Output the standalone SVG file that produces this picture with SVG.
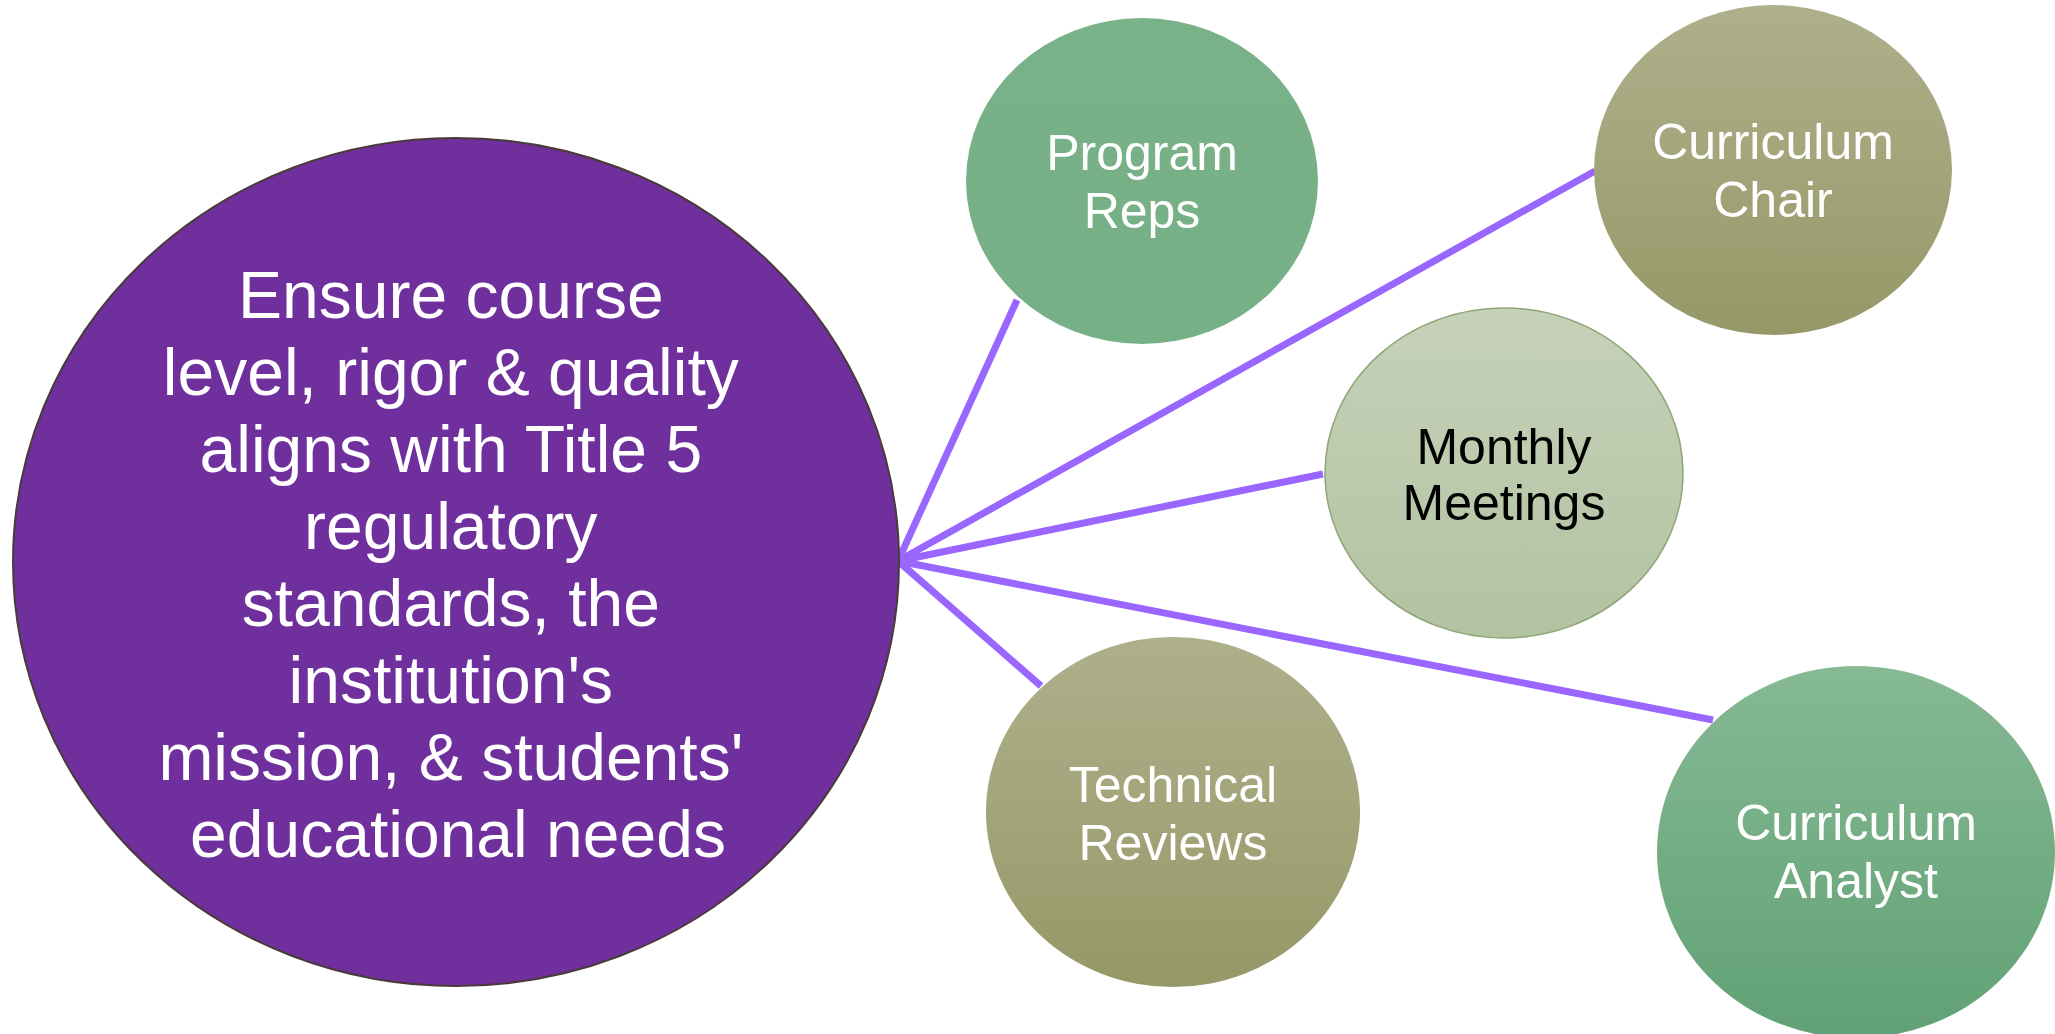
<svg xmlns="http://www.w3.org/2000/svg" width="2055" height="1034" viewBox="0 0 2055 1034">
<defs>
<linearGradient id="gOlive" x1="0" y1="0" x2="0" y2="1">
<stop offset="0" stop-color="#aeb08b"/>
<stop offset="1" stop-color="#979868"/>
</linearGradient>
<linearGradient id="gSage" x1="0" y1="0" x2="0" y2="1">
<stop offset="0" stop-color="#c6d1b9"/>
<stop offset="1" stop-color="#b2c3a1"/>
</linearGradient>
<linearGradient id="gGreen" x1="0" y1="0" x2="0" y2="1">
<stop offset="0" stop-color="#86b994"/>
<stop offset="1" stop-color="#61a175"/>
</linearGradient>
<linearGradient id="gGreen2" x1="0" y1="0" x2="0" y2="1">
<stop offset="0" stop-color="#79b188"/>
<stop offset="1" stop-color="#76b086"/>
</linearGradient>
</defs>
<style>
.lbl{font-family:"Liberation Sans",Arial,sans-serif;text-anchor:middle;}
.w{fill:#ffffff;}
.k{fill:#000000;}
.conn{stroke:#9966ff;stroke-width:7;fill:none;stroke-linecap:butt;}
</style>
<rect width="2055" height="1034" fill="#ffffff"/>
<g id="connectors">
<line class="conn" x1="898" y1="561" x2="1017" y2="300"/>
<line class="conn" x1="898" y1="561" x2="1595" y2="171"/>
<line class="conn" x1="898" y1="561" x2="1323" y2="474"/>
<line class="conn" x1="898" y1="561" x2="1041" y2="686"/>
<line class="conn" x1="898" y1="561" x2="1713" y2="720"/>
</g>
<g id="main">
<ellipse cx="456" cy="562" rx="443" ry="424" fill="#6f2f9d" stroke="#4a3a3a" stroke-width="2"/>
<text class="lbl w" font-size="66">
<tspan x="460" y="318">Ensure course</tspan>
<tspan x="460" y="395">level, rigor &amp; quality</tspan>
<tspan x="460" y="472">aligns with Title 5</tspan>
<tspan x="460" y="549">regulatory</tspan>
<tspan x="460" y="626">standards, the</tspan>
<tspan x="460" y="703">institution's</tspan>
<tspan x="460" y="780">mission, &amp; students'</tspan>
<tspan x="458" y="857">educational needs</tspan>
</text>
</g>
<g id="program-reps">
<ellipse cx="1142" cy="181" rx="176" ry="163" fill="url(#gGreen2)"/>
<text class="lbl w" font-size="50"><tspan x="1142" y="170">Program</tspan><tspan x="1142" y="228">Reps</tspan></text>
</g>
<g id="curriculum-chair">
<ellipse cx="1773" cy="170" rx="179" ry="165" fill="url(#gOlive)"/>
<text class="lbl w" font-size="50"><tspan x="1773" y="159">Curriculum</tspan><tspan x="1773" y="217">Chair</tspan></text>
</g>
<g id="monthly-meetings">
<ellipse cx="1504" cy="473" rx="179" ry="165" fill="url(#gSage)" stroke="#8ea577" stroke-width="1.5"/>
<text class="lbl k" font-size="50"><tspan x="1504" y="464">Monthly</tspan><tspan x="1504" y="520">Meetings</tspan></text>
</g>
<g id="technical-reviews">
<ellipse cx="1173" cy="812" rx="187" ry="175" fill="url(#gOlive)"/>
<text class="lbl w" font-size="50"><tspan x="1173" y="802">Technical</tspan><tspan x="1173" y="860">Reviews</tspan></text>
</g>
<g id="curriculum-analyst">
<ellipse cx="1856" cy="852" rx="199" ry="186" fill="url(#gGreen)"/>
<text class="lbl w" font-size="50"><tspan x="1856" y="840">Curriculum</tspan><tspan x="1856" y="898">Analyst</tspan></text>
</g>
</svg>
